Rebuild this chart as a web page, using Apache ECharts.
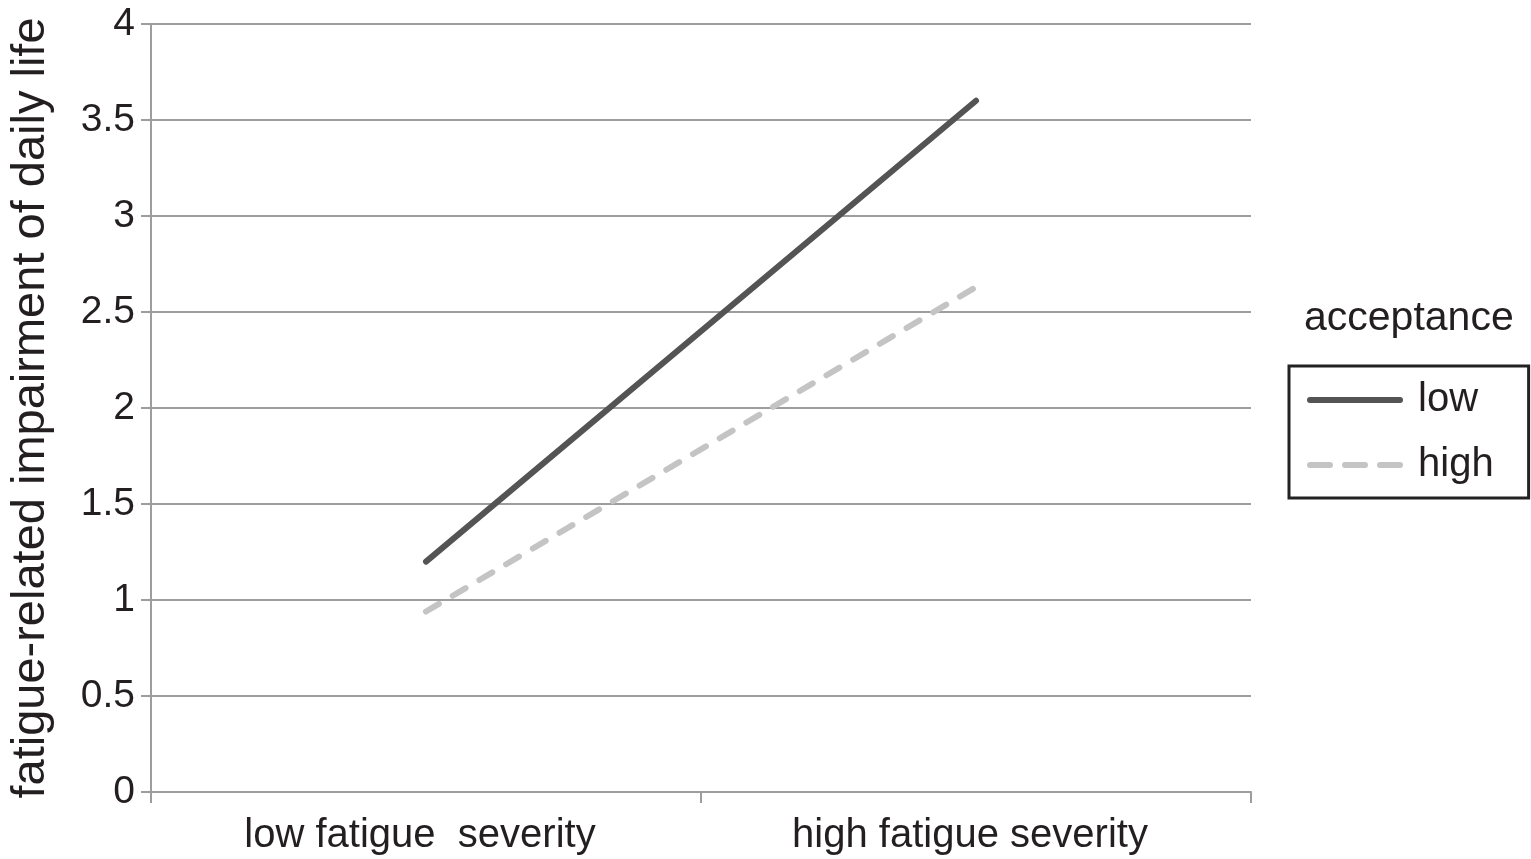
<!DOCTYPE html>
<html>
<head>
<meta charset="utf-8">
<script src="https://cdn.jsdelivr.net/npm/echarts@6/dist/echarts.min.js"></script>
<style>
html,body{margin:0;padding:0;background:#fff;}
#chart{width:1531px;height:859px;}
</style>
</head>
<body>
<div id="chart"></div>
<script>
const categories = ['low fatigue  severity', 'high fatigue severity'];
const lowAcceptance = [1.2, 3.6];
const highAcceptance = [0.94, 2.63];
const seriesNames = ['low', 'high'];
const yTitle = 'fatigue-related impairment of daily life';
const legendTitle = 'acceptance';

const FONT = '"Liberation Sans", Arial, Helvetica, sans-serif';
const TXT = '#231f20';
const GRID = '#9d9d9d';
const LOW_COLOR = '#545454';
const HIGH_COLOR = '#c4c4c4';

function pill(x, w) {
  return 'M' + (x + 3) + ',0h' + (w - 6) + 'a3,3 0 0 1 0,6h-' + (w - 6) + 'a3,3 0 0 1 0,-6z';
}
const solidIcon = 'path://' + pill(0, 96);
const dashIcon = 'path://' + pill(0, 26) + ' ' + pill(35, 26) + ' ' + pill(70, 26);

const chart = echarts.init(document.getElementById('chart'), null, {renderer: 'canvas'});
chart.setOption({
  backgroundColor: '#ffffff',
  animation: false,
  textStyle: {fontFamily: FONT, color: TXT},
  grid: {left: 148, right: 280, top: 24, bottom: 67, containLabel: false},
  graphic: [{
    type: 'text', left: 1304, top: 298,
    style: {text: legendTitle, font: '41px ' + FONT, fill: TXT}
  }],
  legend: {
    orient: 'vertical',
    left: 1289, top: 366,
    padding: [14, 35, 13, 18],
    itemWidth: 96, itemHeight: 6, itemGap: 25,
    borderColor: '#222', borderWidth: 3,
    textStyle: {fontSize: 40, lineHeight: 40, fontFamily: FONT, color: TXT, padding: [0, 0, 0, 10]},
    data: [
      {name: seriesNames[0], icon: solidIcon},
      {name: seriesNames[1], icon: dashIcon}
    ]
  },
  xAxis: {
    type: 'category',
    data: categories,
    boundaryGap: true,
    axisLine: {show: true, lineStyle: {color: GRID, width: 2}},
    axisTick: {show: true, length: 11, lineStyle: {color: GRID, width: 2}},
    axisLabel: {fontSize: 40, color: TXT, fontFamily: FONT, margin: 24, padding: [0, 12, 0, 0]},
    splitLine: {show: false}
  },
  yAxis: {
    type: 'value',
    min: 0, max: 4, interval: 0.5,
    name: yTitle,
    nameLocation: 'middle',
    nameGap: 96,
    nameRotate: 90,
    nameTextStyle: {fontSize: 47, color: TXT, fontFamily: FONT},
    axisLine: {show: true, lineStyle: {color: GRID, width: 2}},
    axisTick: {show: true, length: 10, lineStyle: {color: GRID, width: 2}},
    axisLabel: {fontSize: 39, color: TXT, fontFamily: FONT, margin: 16},
    splitLine: {show: true, lineStyle: {color: GRID, width: 2}}
  },
  series: [
    {
      name: seriesNames[0], type: 'line', data: lowAcceptance,
      symbol: 'none', color: LOW_COLOR,
      lineStyle: {color: LOW_COLOR, width: 6, cap: 'round'}
    },
    {
      name: seriesNames[1], type: 'line', data: highAcceptance,
      symbol: 'none', color: HIGH_COLOR,
      lineStyle: {color: HIGH_COLOR, width: 6, type: [15, 16], cap: 'round'}
    }
  ]
});
</script>
</body>
</html>
